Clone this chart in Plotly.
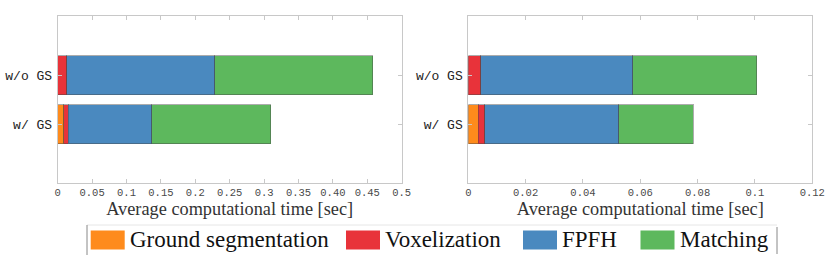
import plotly.graph_objects as go

# ---- data ----
categories = ["w/ GS", "w/o GS"]
series_names = ["Ground segmentation", "Voxelization", "FPFH", "Matching"]
series_colors = ["#FE8B1C", "#E8333A", "#4A89BF", "#5DB85D"]

# left panel (segment durations, sec)
left_ground = [0.0090, 0.0]
left_voxel = [0.0065, 0.0135]
left_fpfh = [0.1211, 0.2145]
left_match = [0.1730, 0.2300]

# right panel (segment durations, sec)
right_ground = [0.0034, 0.0]
right_voxel = [0.0023, 0.0043]
right_fpfh = [0.0468, 0.0530]
right_match = [0.0260, 0.0434]

left_ticks = [0, 0.05, 0.1, 0.15, 0.2, 0.25, 0.3, 0.35, 0.4, 0.45, 0.5]
left_ticktext = ["0", "0.05", "0.1", "0.15", "0.2", "0.25", "0.3", "0.35", "0.40", "0.45", "0.5"]
right_ticks = [0, 0.02, 0.04, 0.06, 0.08, 0.1, 0.12]
right_ticktext = ["0", "0.02", "0.04", "0.06", "0.08", "0.1", "0.12"]

W, H = 830, 255

def px_x(p):
    return p / W

def px_y(p):
    return 1 - p / H

fig = go.Figure()

left_series = [left_ground, left_voxel, left_fpfh, left_match]
right_series = [right_ground, right_voxel, right_fpfh, right_match]

for name, color, vals in zip(series_names, series_colors, left_series):
    fig.add_trace(go.Bar(
        y=categories, x=vals, orientation="h", name=name,
        marker=dict(color=color, line=dict(color="rgba(70,70,70,0.45)", width=1)),
        width=0.79, xaxis="x", yaxis="y", showlegend=False,
    ))
for name, color, vals in zip(series_names, series_colors, right_series):
    fig.add_trace(go.Bar(
        y=categories, x=vals, orientation="h", name=name,
        marker=dict(color=color, line=dict(color="rgba(70,70,70,0.45)", width=1)),
        width=0.79, xaxis="x2", yaxis="y2", showlegend=False,
    ))

frame_color = "#c8c8c8"
tick_font = dict(family="Liberation Mono", size=10.5, color="#4a4a4a")
ytick_font = dict(family="Liberation Mono", size=13, color="#222222")
title_font = dict(family="Liberation Serif", size=18.3, color="#333333")

ydom = [px_y(182.7), px_y(16)]
common_x = dict(
    showgrid=False, zeroline=False, showline=True, linecolor=frame_color, linewidth=1,
    mirror="ticks", ticks="inside", ticklen=4, tickcolor=frame_color, automargin=False,
    tickfont=tick_font, title=dict(text="Average computational time [sec]", font=title_font, standoff=1),
)
common_y = dict(
    showgrid=False, zeroline=False, showline=True, linecolor=frame_color, linewidth=1,
    mirror="ticks", ticks="inside", ticklen=4, tickcolor=frame_color, automargin=False,
    tickfont=ytick_font, categoryorder="array", categoryarray=categories,
    range=[-1.19, 2.21], domain=ydom, ticklabelstandoff=2,
)

fig.update_layout(
    width=W, height=H,
    margin=dict(l=0, r=0, t=0, b=0, autoexpand=False),
    paper_bgcolor="white", plot_bgcolor="white",
    barmode="stack",
    xaxis=dict(domain=[px_x(57.7), px_x(401.7)], range=[0, 0.5],
               tickvals=left_ticks, ticktext=left_ticktext, anchor="y", **common_x),
    yaxis=dict(anchor="x", **common_y),
    xaxis2=dict(domain=[px_x(468.3), px_x(812.3)], range=[0, 0.12],
                tickvals=right_ticks, ticktext=right_ticktext, anchor="y2", **common_x),
    yaxis2=dict(anchor="x2", **common_y),
)

# ---- custom legend (layout decoration) ----
legend_swatch_x = [90.7, 346.0, 523.0, 640.5]
swatch_w = 34
shapes = []
annotations = []
for name, color, sx in zip(series_names, series_colors, legend_swatch_x):
    shapes.append(dict(type="rect", xref="paper", yref="paper",
                       x0=px_x(sx), x1=px_x(sx + swatch_w), y0=px_y(249.5), y1=px_y(230.5),
                       fillcolor=color, line=dict(width=0)))
    annotations.append(dict(xref="paper", yref="paper", x=px_x(sx + swatch_w + 3), y=px_y(239.5),
                            text=name, showarrow=False, xanchor="left", yanchor="middle",
                            font=dict(family="Liberation Serif", size=23, color="#111111")))
# legend frame
shapes.append(dict(type="line", xref="paper", yref="paper", x0=px_x(87), x1=px_x(777),
                   y0=px_y(225), y1=px_y(225), line=dict(color="#e6e6e6", width=1)))
shapes.append(dict(type="line", xref="paper", yref="paper", x0=px_x(87), x1=px_x(87),
                   y0=px_y(225), y1=px_y(256), line=dict(color="#888888", width=1)))
shapes.append(dict(type="line", xref="paper", yref="paper", x0=px_x(777), x1=px_x(777),
                   y0=px_y(227), y1=px_y(254), line=dict(color="#888888", width=1)))

fig.update_layout(shapes=shapes, annotations=annotations)

fig.write_html(
    "out.html",
    config={"displayModeBar": False},
    post_script="document.body.style.margin='0';document.body.style.overflow='hidden';",
)
